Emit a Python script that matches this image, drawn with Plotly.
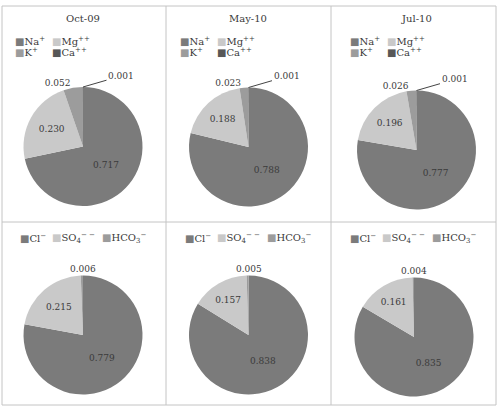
import plotly.graph_objects as go

W, H = 502, 410

dates = ["Oct-09", "May-10", "Jul-10"]
cation_labels = ["Na+", "Mg++", "K+", "Ca++"]
cation_values = [
    [0.717, 0.230, 0.052, 0.001],
    [0.788, 0.188, 0.023, 0.001],
    [0.777, 0.196, 0.026, 0.001],
]
anion_labels = ["Cl-", "SO4--", "HCO3-"]
anion_values = [
    [0.779, 0.215, 0.006],
    [0.838, 0.157, 0.005],
    [0.835, 0.161, 0.004],
]

cation_colors = ["#7b7b7b", "#c9c9c9", "#9c9c9c", "#575757"]
anion_colors = ["#7b7b7b", "#c9c9c9", "#9c9c9c"]
cation_legend_html = ["Na<sup>+</sup>", "Mg<sup>++</sup>", "K<sup>+</sup>", "Ca<sup>++</sup>"]
anion_legend_html = ["Cl<sup>−</sup>", "SO<sub>4</sub><sup>− −</sup>", "HCO<sub>3</sub><sup>−</sup>"]

FONT = "DejaVu Serif"
TXT = "#3a3a3a"

# layout geometry (pixels)
top_centers = [(83, 146.5), (248.5, 147), (416.5, 150)]
bot_centers = [(83, 335), (248.5, 335), (414, 337)]
R = 59.5


def px(x):
    return x / W


def py(y):
    return 1 - y / H


def dom(c):
    cx, cy = c
    return dict(x=[px(cx - R), px(cx + R)], y=[py(cy + R), py(cy - R)])


fig = go.Figure()

for i in range(3):
    fig.add_trace(go.Pie(
        labels=cation_labels, values=cation_values[i], sort=False,
        direction="clockwise", rotation=0,
        marker=dict(colors=cation_colors),
        texttemplate="%{value:.3f}",
        textposition=["inside", "inside", "outside", "none"],
        insidetextorientation="horizontal",
        textfont=dict(family=FONT, size=9, color=TXT),
        domain=dom(top_centers[i]), showlegend=False, hoverinfo="label+value",
    ))
    fig.add_trace(go.Pie(
        labels=anion_labels, values=anion_values[i], sort=False,
        direction="clockwise", rotation=0,
        marker=dict(colors=anion_colors),
        texttemplate="%{value:.3f}",
        textposition=["inside", "inside", "none"],
        insidetextorientation="horizontal",
        textfont=dict(family=FONT, size=9, color=TXT),
        domain=dom(bot_centers[i]), showlegend=False, hoverinfo="label+value",
    ))

shapes = []
line = dict(color="#c4c4c4", width=1)
shapes.append(dict(type="rect", xref="paper", yref="paper",
                   x0=px(2), x1=px(496), y0=py(405), y1=py(6), line=line))
for xv in [166, 331]:
    shapes.append(dict(type="line", xref="paper", yref="paper",
                       x0=px(xv), x1=px(xv), y0=py(405), y1=py(6), line=line))
shapes.append(dict(type="line", xref="paper", yref="paper",
                   x0=px(2), x1=px(496), y0=py(222), y1=py(222), line=line))

ann = []
title_x = [83, 248, 416]
for i in range(3):
    ann.append(dict(text=dates[i], x=px(title_x[i]), y=py(18), xref="paper", yref="paper",
                    showarrow=False, xanchor="center", yanchor="middle",
                    font=dict(family=FONT, size=10, color=TXT)))

# small-slice labels with leader lines (Ca++) and above-top labels (HCO3-)
for i in range(3):
    cx, cy = top_centers[i]
    ann.append(dict(text=f"{cation_values[i][3]:.3f}", x=px(cx), y=py(cy - R),
                    xref="paper", yref="paper", showarrow=True, arrowhead=0,
                    arrowwidth=1, arrowcolor="#444", ax=38, ay=-11,
                    font=dict(family=FONT, size=9, color=TXT)))
    bx, by = bot_centers[i]
    ann.append(dict(text=f"{anion_values[i][2]:.3f}", x=px(bx), y=py(by - R - 7),
                    xref="paper", yref="paper", showarrow=False,
                    xanchor="center", yanchor="middle",
                    font=dict(family=FONT, size=9, color=TXT)))

top_leg_x = [13, 178, 348]
top_offsets = [(0, 41), (37, 41), (0, 52), (37, 52)]
bot_leg_x = [18, 183, 348]
bot_offsets = [0, 32, 82]
for i in range(3):
    for k in range(4):
        dx, yy = top_offsets[k]
        ann.append(dict(
            text=f"<span style='color:{cation_colors[k]}'>■</span>{cation_legend_html[k]}",
            x=px(top_leg_x[i] + dx), y=py(yy), xref="paper", yref="paper",
            showarrow=False, xanchor="left", yanchor="middle",
            font=dict(family=FONT, size=10, color=TXT)))
    for k in range(3):
        ann.append(dict(
            text=f"<span style='color:{anion_colors[k]}'>■</span>{anion_legend_html[k]}",
            x=px(bot_leg_x[i] + bot_offsets[k]), y=py(238), xref="paper", yref="paper",
            showarrow=False, xanchor="left", yanchor="middle",
            font=dict(family=FONT, size=10, color=TXT)))

fig.update_layout(
    width=W, height=H, margin=dict(l=0, r=0, t=0, b=0),
    paper_bgcolor="white", plot_bgcolor="white",
    shapes=shapes, annotations=ann,
)

fig.write_html("out.html")
